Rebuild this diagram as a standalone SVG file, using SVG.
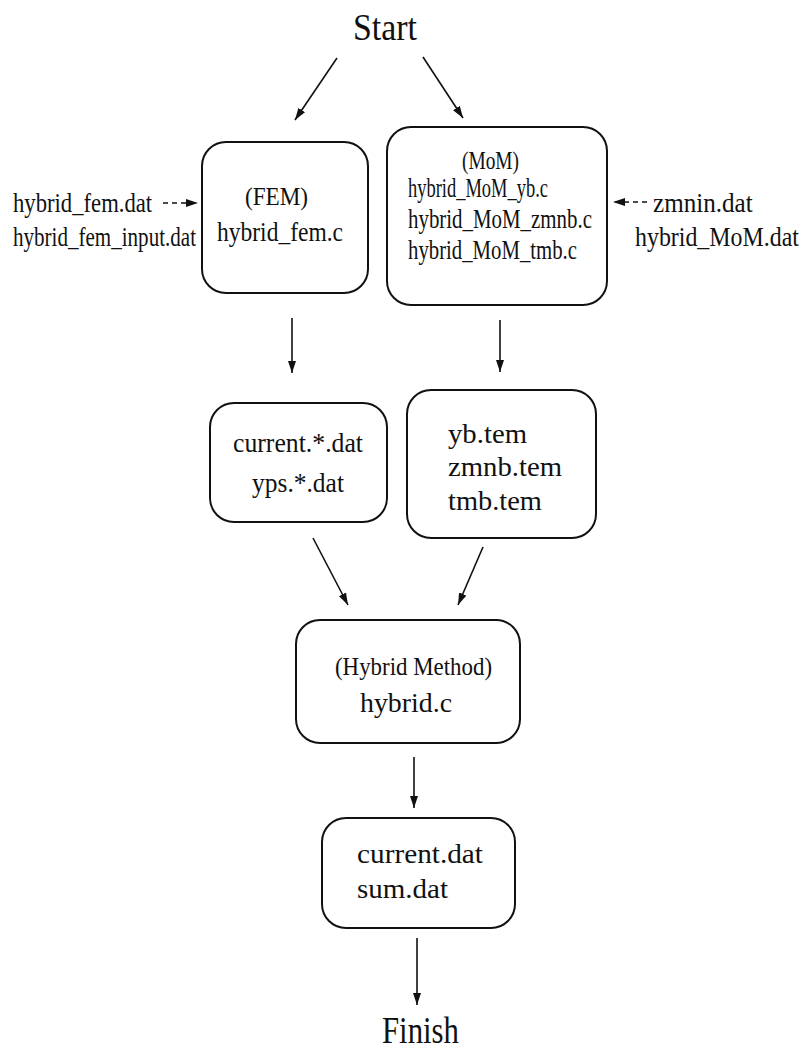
<svg xmlns="http://www.w3.org/2000/svg" width="805" height="1052" viewBox="0 0 805 1052">
<defs>
<style>
text{font-family:"Liberation Serif","Times New Roman",serif;fill:#111;}
.t{font-size:27px;}
.p{font-size:25px;}
.big{font-size:37px;}
.box{fill:#fff;stroke:#111;stroke-width:2;}
.c{stroke:#111;stroke-width:1.6;fill:none;}
.d{stroke:#111;stroke-width:1.6;fill:none;stroke-dasharray:5 4;}
</style>
<marker id="ah" viewBox="0 0 12 8" refX="12" refY="4" markerWidth="12" markerHeight="8" markerUnits="userSpaceOnUse" orient="auto">
<path d="M0,0 L12,4 L0,8 Z" fill="#111"/>
</marker>
</defs>
<rect width="805" height="1052" fill="#fff"/>

<g id="start">
<text class="big" x="353" y="40" textLength="64" lengthAdjust="spacingAndGlyphs">Start</text>
</g>

<g id="fem">
<rect class="box" x="202" y="142" width="166" height="151" rx="24"/>
<text class="p" x="245" y="205" textLength="63" lengthAdjust="spacingAndGlyphs">(FEM)</text>
<text class="t" x="217" y="241" textLength="126" lengthAdjust="spacingAndGlyphs">hybrid_fem.c</text>
</g>

<g id="fem-inputs">
<text class="t" transform="translate(13,212) scale(0.84,1)" x="0" y="0">hybrid_fem.dat</text>
<text class="t" transform="translate(13,246) scale(0.78,1)" x="0" y="0">hybrid_fem_input.dat</text>
</g>

<g id="mom">
<rect class="box" x="387" y="127" width="220" height="178" rx="24"/>
<text class="p" x="462" y="169" textLength="57" lengthAdjust="spacingAndGlyphs">(MoM)</text>
<text class="t" x="408" y="197" textLength="140" lengthAdjust="spacingAndGlyphs">hybrid_MoM_yb.c</text>
<text class="t" x="408" y="228" textLength="184" lengthAdjust="spacingAndGlyphs">hybrid_MoM_zmnb.c</text>
<text class="t" x="408" y="259" textLength="169" lengthAdjust="spacingAndGlyphs">hybrid_MoM_tmb.c</text>
</g>

<g id="mom-inputs">
<text class="t" transform="translate(653,212) scale(0.93,1)" x="0" y="0">zmnin.dat</text>
<text class="t" transform="translate(635,246) scale(0.885,1)" x="0" y="0">hybrid_MoM.dat</text>
</g>

<g id="fem-out">
<rect class="box" x="210" y="403" width="177" height="119" rx="24"/>
<text class="t" x="233" y="452" textLength="130" lengthAdjust="spacingAndGlyphs">current.*.dat</text>
<text class="t" x="252" y="492" textLength="92" lengthAdjust="spacingAndGlyphs">yps.*.dat</text>
</g>

<g id="mom-out">
<rect class="box" x="407" y="390" width="189" height="148" rx="24"/>
<text class="t" x="448" y="443" textLength="79" lengthAdjust="spacingAndGlyphs">yb.tem</text>
<text class="t" x="448" y="476" textLength="114" lengthAdjust="spacingAndGlyphs">zmnb.tem</text>
<text class="t" x="448" y="510" textLength="94" lengthAdjust="spacingAndGlyphs">tmb.tem</text>
</g>

<g id="hybrid">
<rect class="box" x="296" y="620" width="224" height="123" rx="24"/>
<text class="p" x="335" y="675" textLength="157" lengthAdjust="spacingAndGlyphs">(Hybrid Method)</text>
<text class="t" x="360" y="712" textLength="92" lengthAdjust="spacingAndGlyphs">hybrid.c</text>
</g>

<g id="result">
<rect class="box" x="322" y="818" width="193" height="110" rx="24"/>
<text class="t" x="357" y="863" textLength="126" lengthAdjust="spacingAndGlyphs">current.dat</text>
<text class="t" x="357" y="898" textLength="91" lengthAdjust="spacingAndGlyphs">sum.dat</text>
</g>

<g id="finish">
<text class="big" x="382" y="1043" textLength="77" lengthAdjust="spacingAndGlyphs">Finish</text>
</g>

<g id="connectors">
<line class="c" x1="337" y1="58" x2="295" y2="120" marker-end="url(#ah)"/>
<line class="c" x1="423" y1="57" x2="463" y2="118" marker-end="url(#ah)"/>
<line class="d" x1="163" y1="203" x2="198" y2="203" marker-end="url(#ah)"/>
<line class="d" x1="647" y1="202" x2="613" y2="202" marker-end="url(#ah)"/>
<line class="c" x1="292" y1="318" x2="292" y2="373" marker-end="url(#ah)"/>
<line class="c" x1="500" y1="320" x2="500" y2="372" marker-end="url(#ah)"/>
<line class="c" x1="313" y1="538" x2="348" y2="605" marker-end="url(#ah)"/>
<line class="c" x1="483" y1="547" x2="458" y2="605" marker-end="url(#ah)"/>
<line class="c" x1="414" y1="757" x2="414" y2="808" marker-end="url(#ah)"/>
<line class="c" x1="417" y1="938" x2="417" y2="1005" marker-end="url(#ah)"/>
</g>
</svg>
